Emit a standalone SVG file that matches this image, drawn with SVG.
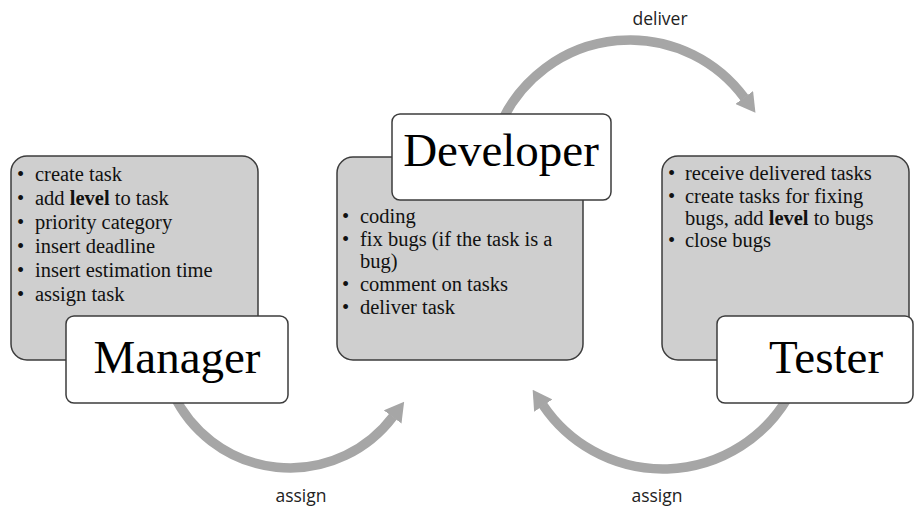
<svg xmlns="http://www.w3.org/2000/svg" width="924" height="508" viewBox="0 0 924 508">
  <style>
    .panel { fill: #cfcfcf; stroke: #3c3c3c; stroke-width: 1.5; }
    .title-box { fill: #ffffff; stroke: #3c3c3c; stroke-width: 1.5; }
    .title { font-family: "Liberation Serif", "Times New Roman", serif; font-size: 47px; fill: #000; text-anchor: middle; }
    .item { font-family: "Liberation Serif", "Times New Roman", serif; font-size: 20.5px; fill: #111; }
    .flow { fill: none; stroke: #a6a6a6; stroke-width: 9.5; marker-end: url(#head); }
    .flow-label { font-family: "Open Sans", "Liberation Sans", sans-serif; font-size: 17.5px; fill: #222; text-anchor: middle; }
  </style>
  <defs>
    <marker id="head" markerUnits="userSpaceOnUse" viewBox="0 0 19 22" refX="0.5" refY="11" markerWidth="19" markerHeight="22" orient="auto">
      <path d="M0,0 L19,11 L0,22 Z" fill="#a6a6a6"/>
    </marker>
  </defs>
  <rect width="924" height="508" fill="#ffffff"/>

  <!-- connectors: curved flow arrows between roles -->
  <g id="connectors">
    <path class="flow" d="M173.1,393.5 A129,129 0 0 0 393,416.6"/>
    <path class="flow" d="M502.3,120 A142,142 0 0 1 744.5,97.9"/>
    <path class="flow" d="M787.6,398 A144.8,144.8 0 0 1 543,405.2"/>
    <text class="flow-label" x="301" y="502">assign</text>
    <text class="flow-label" x="660" y="25">deliver</text>
    <text class="flow-label" x="657" y="502">assign</text>
  </g>

  <!-- Manager -->
  <g id="manager">
    <rect class="panel" x="11" y="156" width="247" height="204" rx="16"/>
    <g class="item">
      <text x="17" y="181">•</text><text x="35" y="181">create task</text>
      <text x="17" y="205">•</text><text x="35" y="205">add <tspan font-weight="bold">level</tspan> to task</text>
      <text x="17" y="229">•</text><text x="35" y="229">priority category</text>
      <text x="17" y="253">•</text><text x="35" y="253">insert deadline</text>
      <text x="17" y="277">•</text><text x="35" y="277">insert estimation time</text>
      <text x="17" y="301">•</text><text x="35" y="301">assign task</text>
    </g>
    <rect class="title-box" x="66" y="316" width="222" height="87" rx="8"/>
    <text class="title" x="177" y="373">Manager</text>
  </g>

  <!-- Developer -->
  <g id="developer">
    <rect class="panel" x="337" y="157" width="246" height="203" rx="16"/>
    <g class="item">
      <text x="342" y="223">•</text><text x="360" y="223">coding</text>
      <text x="342" y="246">•</text><text x="360" y="246">fix bugs (if the task is a</text>
      <text x="360" y="268">bug)</text>
      <text x="342" y="291">•</text><text x="360" y="291">comment on tasks</text>
      <text x="342" y="314">•</text><text x="360" y="314">deliver task</text>
    </g>
    <rect class="title-box" x="392" y="114" width="219" height="86" rx="8"/>
    <text class="title" x="501" y="166">Developer</text>
  </g>

  <!-- Tester -->
  <g id="tester">
    <rect class="panel" x="662" y="156" width="247" height="204" rx="16"/>
    <g class="item">
      <text x="668" y="180">•</text><text x="685" y="180">receive delivered tasks</text>
      <text x="668" y="203">•</text><text x="685" y="203">create tasks for fixing</text>
      <text x="685" y="225">bugs, add <tspan font-weight="bold">level</tspan> to bugs</text>
      <text x="668" y="247">•</text><text x="685" y="247">close bugs</text>
    </g>
    <rect class="title-box" x="717" y="316" width="196" height="87" rx="8"/>
    <text class="title" x="826" y="373">Tester</text>
  </g>
</svg>
